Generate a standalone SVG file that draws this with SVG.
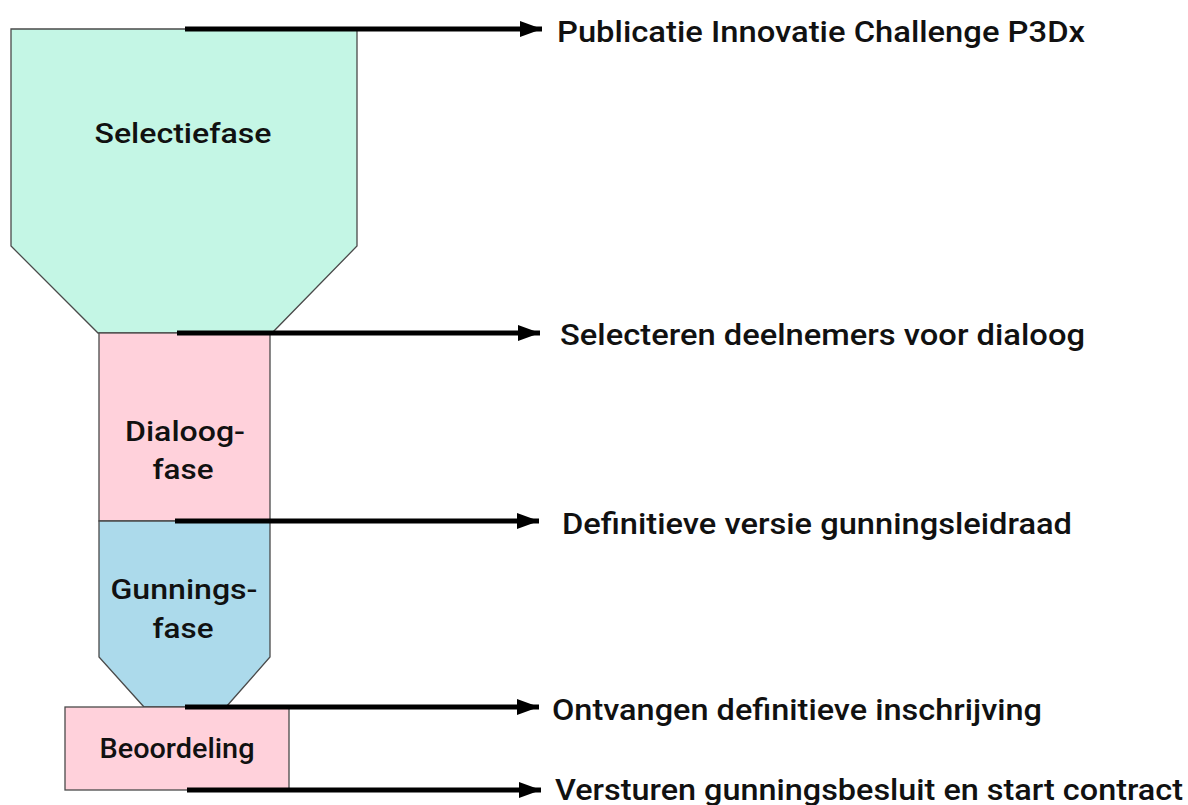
<svg xmlns="http://www.w3.org/2000/svg" width="1188" height="805" viewBox="0 0 1188 805">
<style>
.shape{stroke:#4a4a4a;stroke-width:1.3}
.lbl{font-family:"Roboto","Liberation Sans",sans-serif;font-weight:500;font-size:28px;fill:#111}
.side{font-size:30px}
.node{text-anchor:middle}
.conn{stroke:#000;stroke-width:5;fill:none}
</style>
<defs>
<marker id="ah" markerUnits="userSpaceOnUse" markerWidth="24" markerHeight="18" refX="22" refY="9" orient="auto">
<path d="M0,1 L22,9 L0,17 Z" fill="#000"/>
</marker>
</defs>
<rect width="1188" height="805" fill="#fff"/>
<g id="selectiefase">
<polygon class="shape" points="11,29 357,29 357,246 272,333 98,333 11,246" fill="#c4f6e5"/>
<text class="lbl node" x="183" y="143" textLength="177" lengthAdjust="spacingAndGlyphs">Selectiefase</text>
</g>
<g id="dialoogfase">
<rect class="shape" x="99" y="333" width="171" height="188" fill="#ffd1db"/>
<text class="lbl node" x="185" y="441" textLength="120" lengthAdjust="spacingAndGlyphs">Dialoog-</text>
<text class="lbl node" x="183" y="479" textLength="61" lengthAdjust="spacingAndGlyphs">fase</text>
</g>
<g id="gunningsfase">
<polygon class="shape" points="99,521 270,521 270,657 226,707 144,707 99,657" fill="#acdaeb"/>
<text class="lbl node" x="184" y="599" textLength="147" lengthAdjust="spacingAndGlyphs">Gunnings-</text>
<text class="lbl node" x="183" y="638" textLength="61" lengthAdjust="spacingAndGlyphs">fase</text>
</g>
<g id="beoordeling">
<rect class="shape" x="65" y="707" width="224" height="83" fill="#ffd1db"/>
<text class="lbl node" x="177" y="758" font-size="25" textLength="155" lengthAdjust="spacingAndGlyphs">Beoordeling</text>
</g>
<g id="connectors">
<line class="conn" x1="185" y1="29" x2="542" y2="29" marker-end="url(#ah)"/>
<line class="conn" x1="177" y1="333" x2="540" y2="333" marker-end="url(#ah)"/>
<line class="conn" x1="175" y1="521" x2="539" y2="521" marker-end="url(#ah)"/>
<line class="conn" x1="185" y1="707" x2="539" y2="707" marker-end="url(#ah)"/>
<line class="conn" x1="187" y1="790" x2="541" y2="790" marker-end="url(#ah)"/>
</g>
<g id="labels">
<text class="lbl side" x="557" y="42" textLength="528" lengthAdjust="spacingAndGlyphs">Publicatie Innovatie Challenge P3Dx</text>
<text class="lbl side" x="560" y="345" textLength="525" lengthAdjust="spacingAndGlyphs">Selecteren deelnemers voor dialoog</text>
<text class="lbl side" x="562" y="534" textLength="510" lengthAdjust="spacingAndGlyphs">Definitieve versie gunningsleidraad</text>
<text class="lbl side" x="552" y="720" textLength="490" lengthAdjust="spacingAndGlyphs">Ontvangen definitieve inschrijving</text>
<text class="lbl side" x="555" y="800" textLength="628" lengthAdjust="spacingAndGlyphs">Versturen gunningsbesluit en start contract</text>
</g>
</svg>
